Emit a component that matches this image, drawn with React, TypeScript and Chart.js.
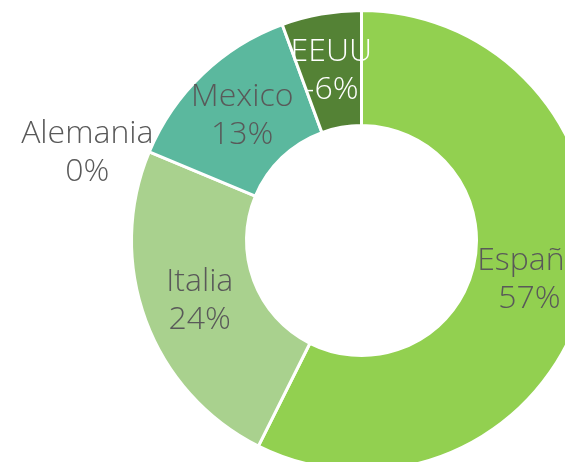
import React, { useEffect, useRef } from "react";
import { Chart, registerables } from "chart.js";

Chart.register(...registerables);

const categories = ["España", "Italia", "Alemania", "Mexico", "EEUU"];
const values = [57.4, 23.9, 0, 13.1, 5.6];
const valueLabels = ["57%", "24%", "0%", "13%", "-6%"];
const colors = ["#92D050", "#A9D18E", "#7F7F7F", "#5BB89E", "#548235"];
const labelColors = ["#595959", "#595959", "#595959", "#595959", "#FFFFFF"];

const labelPlugin = {
  id: "sliceLabels",
  afterDatasetsDraw(chart: any) {
    const ctx = chart.ctx;
    const meta = chart.getDatasetMeta(0);
    ctx.save();
    ctx.font = "300 32px 'Open Sans'";
    ctx.textAlign = "center";
    ctx.textBaseline = "middle";
    meta.data.forEach((arc: any, i: number) => {
      const p = arc.getProps(["x", "y", "startAngle", "endAngle", "innerRadius", "outerRadius"], true);
      let mid = (p.startAngle + p.endAngle) / 2;
      let r = (p.innerRadius + p.outerRadius) / 2;
      if (values[i] === 0) {
        r = p.outerRadius + 58;
        mid -= 0.085;
      }
      const cx = p.x + Math.cos(mid) * r;
      const cy = p.y + Math.sin(mid) * r;
      ctx.fillStyle = labelColors[i];
      ctx.fillText(categories[i], cx, cy - 19);
      ctx.fillText(valueLabels[i], cx, cy + 19);
    });
    ctx.restore();
  },
};

export default function App() {
  const ref = useRef<HTMLCanvasElement>(null);
  useEffect(() => {
    if (!ref.current) return;
    const chart = new Chart(ref.current, {
      type: "doughnut",
      data: {
        labels: categories,
        datasets: [
          {
            data: values,
            backgroundColor: colors,
            borderColor: "#FFFFFF",
            borderWidth: 3,
            hoverOffset: 0,
          },
        ],
      },
      options: {
        responsive: false,
        animation: false,
        cutout: "50%",
        layout: { padding: { top: 1, bottom: 1, left: 0, right: 0 } },
        plugins: { legend: { display: false }, tooltip: { enabled: false } },
      },
      plugins: [labelPlugin],
    });
    return () => chart.destroy();
  }, []);
  return (
    <div style={{ width: 565, height: 454, overflow: "hidden", position: "relative" }}>
      <canvas ref={ref} width={707} height={465} style={{ display: "block" }} />
    </div>
  );
}
